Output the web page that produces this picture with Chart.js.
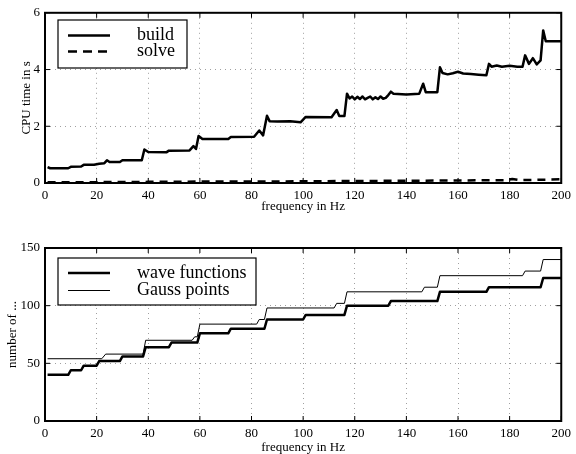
<!DOCTYPE html>
<html>
<head>
<meta charset="utf-8">
<title>CPU time and number of unknowns vs frequency</title>
<script src="https://cdn.jsdelivr.net/npm/chart.js@4"></script>
<style>
  body { margin: 0; background: #fff; }
  .plot { position: absolute; left: 0; }
</style>
</head>
<body>
<canvas id="timeChart" class="plot" width="576" height="215" style="top:0"></canvas>
<canvas id="countChart" class="plot" width="576" height="229" style="top:225px"></canvas>
<script>
"use strict";

// frequency axis ticks (Hz)
const FREQ_TICKS = [0, 20, 40, 60, 80, 100, 120, 140, 160, 180, 200];
const TIME_TICKS = [0, 2, 4, 6];
const COUNT_TICKS = [0, 50, 100, 150];

// CPU time for building the system (s)
const buildHz = [1, 2, 9, 10, 14, 15, 19, 21, 23, 24, 25, 29, 30, 37.5, 38.5, 40, 47, 48, 56, 57.5, 58.5, 59.5,
  61, 71, 72, 81, 83, 84.5, 86, 87, 90, 95, 99, 101, 111, 113, 114, 116, 117, 118, 119, 120, 121, 122, 123,
  124, 125, 126, 127, 128, 129, 130, 131, 132, 133, 134, 135, 140, 145, 146.5, 147.5, 152, 153, 154, 156,
  158, 160, 162, 165, 168, 171, 172, 173, 175, 177, 180, 183, 185, 186, 187.5, 189, 190.5, 192, 193, 194, 200];
const buildTime = [0.56, 0.52, 0.52, 0.57, 0.58, 0.64, 0.64, 0.68, 0.70, 0.80, 0.74, 0.74, 0.80, 0.80, 1.18, 1.09,
  1.08, 1.14, 1.15, 1.30, 1.20, 1.66, 1.55, 1.55, 1.62, 1.63, 1.85, 1.68, 2.37, 2.18, 2.17, 2.18, 2.14, 2.33,
  2.32, 2.57, 2.36, 2.36, 3.15, 2.98, 3.05, 2.95, 3.04, 2.96, 3.05, 2.95, 3.00, 3.05, 2.95, 3.02, 2.96, 3.05,
  2.97, 3.00, 3.10, 3.22, 3.15, 3.12, 3.15, 3.50, 3.20, 3.20, 4.08, 3.88, 3.83, 3.87, 3.92, 3.86, 3.84, 3.82,
  3.80, 4.20, 4.10, 4.14, 4.10, 4.13, 4.10, 4.10, 4.50, 4.20, 4.40, 4.18, 4.32, 5.38, 5.00, 5.00];

// CPU time for solving (s)
const solveHz = [1, 20, 40, 60, 80, 100, 120, 140, 160, 178, 181, 184, 200];
const solveTime = [0.03, 0.03, 0.04, 0.05, 0.05, 0.06, 0.07, 0.08, 0.09, 0.10, 0.14, 0.10, 0.13];

// number of wave functions (staircase)
const waveHz = [1, 9, 10, 14, 15, 20, 21, 29, 30, 38, 39, 48, 49, 59, 60, 71, 72, 85, 86, 100, 101,
  116, 117, 133, 134, 152, 153, 171, 172, 192, 193, 200];
const waveCount = [40, 40, 44, 44, 48, 48, 52, 52, 56, 56, 64, 64, 68, 68, 76, 76, 80, 80, 88, 88, 92,
  92, 100, 100, 104, 104, 112, 112, 116, 116, 124, 124];

// number of Gauss points (staircase)
const gaussHz = [1, 22, 23.5, 38, 39, 57, 58, 59, 60, 82, 83, 85, 86, 112, 113, 116, 117, 146, 147,
  152, 153, 185, 186, 192, 193, 200];
const gaussCount = [54, 54, 58, 58, 70, 70, 73, 73, 84, 84, 88, 88, 98, 98, 102, 102, 112, 112, 116,
  116, 126, 126, 130, 130, 140, 140];

const SERIF = '"Liberation Serif", "Times New Roman", serif';
const GRID_COLOR = '#a0a0a0';

const toPoints = (xs, ys) => xs.map((x, i) => ({ x: x, y: ys[i] }));

// axes box, inward tick marks and a boxed legend (MATLAB look)
const frameBox = {
  id: 'frameBox',
  afterDatasetsDraw(chart, args, opts) {
    const { ctx } = chart;
    const lg = opts.legend;
    ctx.save();
    ctx.fillStyle = '#fff';
    ctx.fillRect(lg.x, lg.y, lg.w, lg.h);
    ctx.strokeStyle = '#000';
    ctx.lineWidth = 1.2;
    ctx.strokeRect(lg.x, lg.y, lg.w, lg.h);
    chart.data.datasets.forEach((ds, i) => {
      const y = lg.y + lg.first + i * lg.gap;
      ctx.beginPath();
      ctx.setLineDash(ds.legendDash || []);
      ctx.lineWidth = ds.borderWidth;
      ctx.moveTo(lg.x + 10, y);
      ctx.lineTo(lg.x + 52, y);
      ctx.stroke();
      ctx.setLineDash([]);
      ctx.font = '18px ' + SERIF;
      ctx.fillStyle = '#000';
      ctx.textBaseline = 'middle';
      ctx.fillText(ds.label, lg.x + 79, y);
    });
    ctx.restore();
  },
  afterDraw(chart) {
    const { ctx, chartArea: a, scales } = chart;
    ctx.save();
    ctx.strokeStyle = '#000';
    ctx.lineWidth = 1;
    ctx.beginPath();
    scales.x.ticks.forEach(t => {
      const px = scales.x.getPixelForValue(t.value);
      ctx.moveTo(px, a.bottom); ctx.lineTo(px, a.bottom - 5);
      ctx.moveTo(px, a.top); ctx.lineTo(px, a.top + 5);
    });
    scales.y.ticks.forEach(t => {
      const py = scales.y.getPixelForValue(t.value);
      ctx.moveTo(a.left, py); ctx.lineTo(a.left + 5, py);
      ctx.moveTo(a.right, py); ctx.lineTo(a.right - 5, py);
    });
    ctx.stroke();
    ctx.lineWidth = 2;
    ctx.strokeRect(a.left, a.top, a.right - a.left, a.bottom - a.top);
    ctx.restore();
  }
};

const freqAxis = (axisHeight, titleGap) => ({
  type: 'linear',
  min: 0,
  max: 200,
  afterBuildTicks: (scale) => { scale.ticks = FREQ_TICKS.map(v => ({ value: v })); },
  ticks: { padding: 5, color: '#000', font: { family: SERIF, size: 13 }, maxRotation: 0 },
  grid: { color: GRID_COLOR, lineWidth: 1, drawTicks: false },
  border: { display: false, dash: [1, 4] },
  title: { display: true, text: 'frequency in Hz', color: '#000', font: { family: SERIF, size: 13 }, padding: { top: 0, bottom: titleGap } },
  afterFit: (scale) => { scale.height = axisHeight; }
});

const valueAxis = (max, tickList, title, titleGap) => ({
  type: 'linear',
  min: 0,
  max: max,
  afterBuildTicks: (scale) => { scale.ticks = tickList.map(v => ({ value: v })); },
  ticks: { padding: 5, color: '#000', font: { family: SERIF, size: 13 } },
  grid: { color: GRID_COLOR, lineWidth: 1, drawTicks: false },
  border: { display: false, dash: [1, 4] },
  title: { display: true, text: title, color: '#000', font: { family: SERIF, size: 13 }, padding: { top: titleGap, bottom: 0 } },
  afterFit: (scale) => { scale.width = 45; }
});

const baseOptions = (padTop, scales, legend) => ({
  responsive: false,
  animation: false,
  devicePixelRatio: 1,
  layout: { padding: { left: 0, right: 11, top: padTop, bottom: 0 } },
  scales: scales,
  elements: { point: { radius: 0 }, line: { tension: 0, borderJoinStyle: 'round' } },
  plugins: { legend: { display: false }, tooltip: { enabled: false }, frameBox: { legend: legend } }
});

new Chart(document.getElementById('timeChart'), {
  type: 'line',
  data: {
    datasets: [{
      label: 'build',
      data: toPoints(buildHz, buildTime),
      borderColor: '#000',
      borderWidth: 2.5
    }, {
      label: 'solve',
      data: toPoints(solveHz, solveTime),
      borderColor: '#000',
      borderWidth: 2.5,
      borderDash: [8, 6],
      legendDash: [9, 6]
    }]
  },
  options: baseOptions(9, {
    x: freqAxis(32, 1),
    y: valueAxis(6, TIME_TICKS, 'CPU time in s', 19)
  }, { x: 58, y: 20, w: 129, h: 48, first: 15.5, gap: 16 }),
  plugins: [frameBox]
});

new Chart(document.getElementById('countChart'), {
  type: 'line',
  data: {
    datasets: [{
      label: 'wave functions',
      data: toPoints(waveHz, waveCount),
      borderColor: '#000',
      borderWidth: 2.5
    }, {
      label: 'Gauss points',
      data: toPoints(gaussHz, gaussCount),
      borderColor: '#000',
      borderWidth: 1
    }]
  },
  options: baseOptions(23, {
    x: freqAxis(33, -1),
    y: valueAxis(150, COUNT_TICKS, 'number of ...', 5)
  }, { x: 58, y: 33, w: 198, h: 47, first: 15, gap: 17.5 }),
  plugins: [frameBox]
});
</script>
</body>
</html>
